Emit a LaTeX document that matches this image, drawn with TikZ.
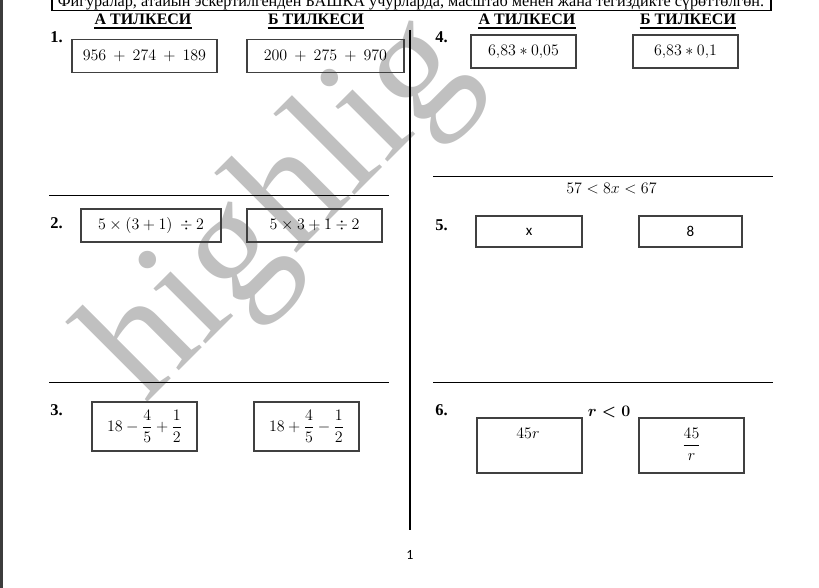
\RequirePackage{fix-cm}
\documentclass[tikz,border=0pt]{standalone}
\usepackage{amsmath}
\usepackage{fontspec}
\setmainfont{Liberation Serif}
\newfontfamily\calibri{Carlito}
\begin{document}
\begin{tikzpicture}[x=1pt, y=-1pt, thick,
	box/.style={draw=boxgray, line width=1.1pt, inner sep=0pt, minimum width=105pt, minimum height=33pt, font=\fontsize{16}{19}\selectfont},
	header/.style={anchor=base, inner sep=0pt, font=\fontsize{16}{18}\selectfont\bfseries},
	qnum/.style={anchor=base west, inner sep=0pt, font=\fontsize{16.5}{18}\selectfont\bfseries},
	plain/.style={anchor=base, inner sep=0pt, font=\fontsize{16}{19}\selectfont},
	rule/.style={line width=1pt}]
	\definecolor{boxgray}{RGB}{64, 64, 64}
	\definecolor{wmgray}{RGB}{192, 192, 192}
	\definecolor{edge}{RGB}{60, 60, 60}
	\useasboundingbox (0, 0) rectangle (819, 588);
	\clip (0, 0) rectangle (819, 588);
	\fill[edge] (0, 0) rectangle (3, 588);
	
	% watermark
	\node[text=wmgray, rotate=45, anchor=base west, inner sep=0pt, font=\fontsize{165}{165}\selectfont] (mark) at (145, 405) {highlig};
	
	% top note
	\draw[line width=1.2pt] (52, -20) rectangle (771, 10.5);
	\node[plain, font=\fontsize{16.2}{18}\selectfont] (note) at (411, 7) {Фигуралар, атайын эскертилгенден БАШКА учурларда, масштаб менен жана тегиздикте сүрөттөлгөн.};
	
	% headers
	\foreach \t/\x [count=\i] in {А/143, Б/316, А/527, Б/688}{
		\node[header] (head\i) at (\x, 25) {\t\ ТИЛКЕСИ};
		\draw[line width=1.8pt] ([yshift=-3pt]head\i.base west) -- ([yshift=-3pt]head\i.base east);
	}
	
	% question numbers
	\foreach \n/\x/\y in {1/50/43, 2/50/229, 3/50/415, 4/435/43, 5/435/230, 6/435/415}
		\node[qnum] (num\n) at (\x, \y) {\n.};
	
	% rules
	\draw[line width=2.5pt] (410, 30) -- (410, 530);
	\foreach \x/\y in {49/196, 49/382, 433/177, 433/382}
		\draw[rule] (\x, \y) -- ++(340, 0);
	
	% left column
	\node[box, minimum width=145pt] (a1) at (144.5, 56) {$956\:+\:274\:+\:189$};
	\node[box, minimum width=157pt] (b1) at (325.5, 56) {$200\:+\:275\:+\:970$};
	\node[box, minimum width=140pt] (a2) at (151, 225.5) {$5\times(3+1)\ \div 2$};
	\node[box, minimum width=135pt] (b2) at (314.5, 225.5) {$5\times3+1\div2$};
	\node[box, minimum height=49pt] (a3) at (144.5, 426.5) {$18-\dfrac{4}{5}+\dfrac{1}{2}$};
	\node[box, minimum height=49pt] (b3) at (306.5, 426.5) {$18+\dfrac{4}{5}-\dfrac{1}{2}$};
	
	% right column
	\node[box] (a4) at (523.5, 51.5) {$6{,}83\ast0{,}05$};
	\node[box] (b4) at (685.5, 51.5) {$6{,}83\ast0{,}1$};
	\node[plain] (cond5) at (611.5, 194) {$57<8x<67$};
	\node[box, minimum width=106pt, minimum height=31pt, font=\calibri\fontsize{15}{18}\selectfont] (a5) at (529, 231.5) {x};
	\node[box, minimum width=103pt, minimum height=31pt, font=\calibri\fontsize{15}{18}\selectfont] (b5) at (690.5, 231.5) {8};
	\node[plain, font=\fontsize{16}{18}\selectfont\boldmath] (cond6) at (609, 416) {$r<0$};
	\node[box, minimum height=55pt] (a6) at (529.5, 445.5) {};
	\node[plain] (a6t) at (528, 438) {$45r$};
	\node[box, minimum height=55pt] (b6) at (691.5, 445.5) {};
	\node[font=\fontsize{16}{19}\selectfont, inner sep=0pt] (b6t) at (691.5, 444) {$\dfrac{45}{r}$};
	
	% page number
	\node[plain, font=\calibri\fontsize{14}{16}\selectfont] (page) at (410, 559) {1};
\end{tikzpicture}
\end{document}
